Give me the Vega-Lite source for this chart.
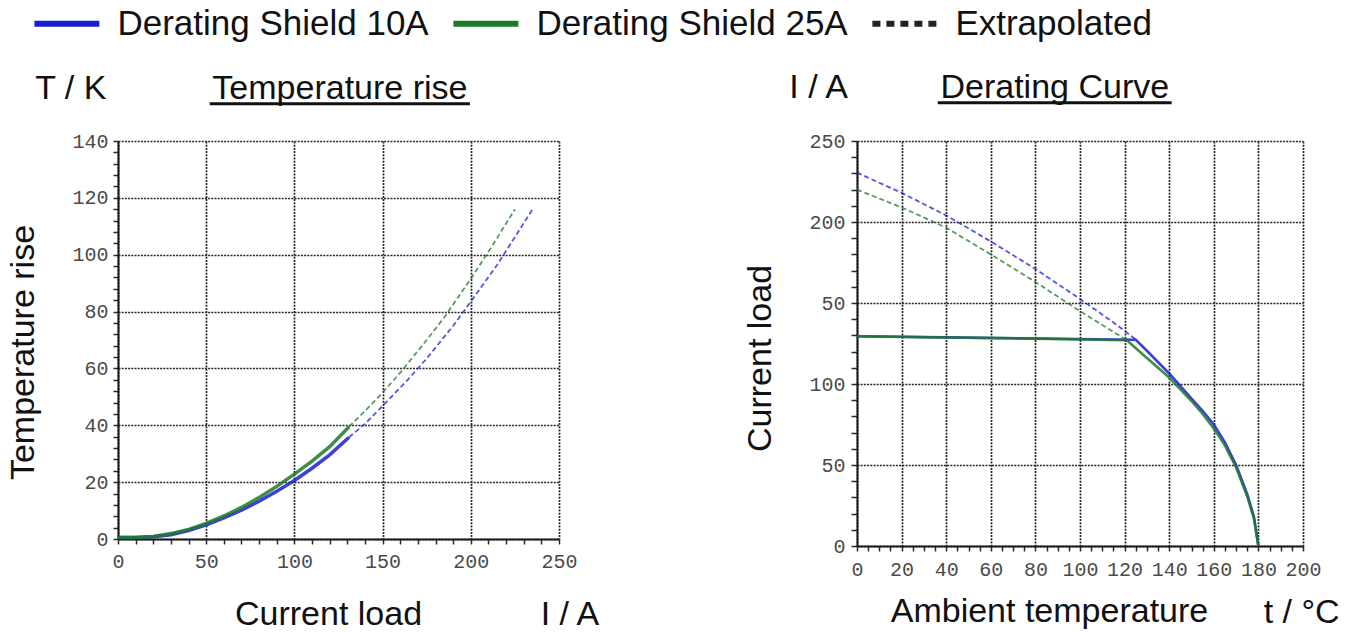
{
  "$schema": "https://vega.github.io/schema/vega-lite/v6.json",
  "background": "white",
  "padding": {"left": 6, "top": 6, "right": 4, "bottom": 0},
  "spacing": 142,
  "config": {
    "view": {"stroke": null},
    "font": "Liberation Sans",
    "axis": {
      "labelFont": "Liberation Mono", "labelFontSize": 20, "labelColor": "#4a4a4a",
      "titleFont": "Liberation Sans", "titleFontSize": 34, "titleFontWeight": "normal", "titleColor": "#111111",
      "domainColor": "#1a1a1a", "domainWidth": 2,
      "tickColor": "#2a2a2a", "tickWidth": 1.5,
      "gridColor": "#262626", "gridWidth": 1.7, "gridDash": [2, 1.2],
      "labelFlush": false, "labelOverlap": false, "titleAlign": "center", "titleBaseline": "alphabetic",
      "tickCount": 100
    },
    "text": {"font": "Liberation Sans", "fontSize": 34, "color": "#111111", "align": "center", "baseline": "alphabetic"}
  },
  "datasets": {
    "temp": [
      {"I": 0, "T": 0.5, "series": "Derating Shield 10A", "kind": "measured"},
      {"I": 10, "T": 0.5, "series": "Derating Shield 10A", "kind": "measured"},
      {"I": 20, "T": 0.8, "series": "Derating Shield 10A", "kind": "measured"},
      {"I": 30, "T": 1.5, "series": "Derating Shield 10A", "kind": "measured"},
      {"I": 40, "T": 3.0, "series": "Derating Shield 10A", "kind": "measured"},
      {"I": 50, "T": 5.0, "series": "Derating Shield 10A", "kind": "measured"},
      {"I": 60, "T": 7.4, "series": "Derating Shield 10A", "kind": "measured"},
      {"I": 70, "T": 10.1, "series": "Derating Shield 10A", "kind": "measured"},
      {"I": 80, "T": 13.3, "series": "Derating Shield 10A", "kind": "measured"},
      {"I": 90, "T": 16.8, "series": "Derating Shield 10A", "kind": "measured"},
      {"I": 100, "T": 20.6, "series": "Derating Shield 10A", "kind": "measured"},
      {"I": 110, "T": 24.9, "series": "Derating Shield 10A", "kind": "measured"},
      {"I": 120, "T": 29.6, "series": "Derating Shield 10A", "kind": "measured"},
      {"I": 131, "T": 35.8, "series": "Derating Shield 10A", "kind": "measured"},
      {"I": 131, "T": 35.8, "series": "Derating Shield 10A", "kind": "extrapolated"},
      {"I": 140, "T": 40.5, "series": "Derating Shield 10A", "kind": "extrapolated"},
      {"I": 150, "T": 46.8, "series": "Derating Shield 10A", "kind": "extrapolated"},
      {"I": 165, "T": 56.5, "series": "Derating Shield 10A", "kind": "extrapolated"},
      {"I": 175, "T": 63.5, "series": "Derating Shield 10A", "kind": "extrapolated"},
      {"I": 190, "T": 75, "series": "Derating Shield 10A", "kind": "extrapolated"},
      {"I": 200, "T": 83.5, "series": "Derating Shield 10A", "kind": "extrapolated"},
      {"I": 215, "T": 96.5, "series": "Derating Shield 10A", "kind": "extrapolated"},
      {"I": 235, "T": 116, "series": "Derating Shield 10A", "kind": "extrapolated"},
      {"I": 0, "T": 0.5, "series": "Derating Shield 25A", "kind": "measured"},
      {"I": 10, "T": 0.5, "series": "Derating Shield 25A", "kind": "measured"},
      {"I": 20, "T": 0.9, "series": "Derating Shield 25A", "kind": "measured"},
      {"I": 30, "T": 1.9, "series": "Derating Shield 25A", "kind": "measured"},
      {"I": 40, "T": 3.4, "series": "Derating Shield 25A", "kind": "measured"},
      {"I": 50, "T": 5.5, "series": "Derating Shield 25A", "kind": "measured"},
      {"I": 60, "T": 8.1, "series": "Derating Shield 25A", "kind": "measured"},
      {"I": 70, "T": 11.1, "series": "Derating Shield 25A", "kind": "measured"},
      {"I": 80, "T": 14.6, "series": "Derating Shield 25A", "kind": "measured"},
      {"I": 90, "T": 18.5, "series": "Derating Shield 25A", "kind": "measured"},
      {"I": 100, "T": 22.8, "series": "Derating Shield 25A", "kind": "measured"},
      {"I": 110, "T": 27.4, "series": "Derating Shield 25A", "kind": "measured"},
      {"I": 120, "T": 32.5, "series": "Derating Shield 25A", "kind": "measured"},
      {"I": 131, "T": 39.5, "series": "Derating Shield 25A", "kind": "measured"},
      {"I": 131, "T": 39.5, "series": "Derating Shield 25A", "kind": "extrapolated"},
      {"I": 140, "T": 45, "series": "Derating Shield 25A", "kind": "extrapolated"},
      {"I": 150, "T": 51.5, "series": "Derating Shield 25A", "kind": "extrapolated"},
      {"I": 160, "T": 58.5, "series": "Derating Shield 25A", "kind": "extrapolated"},
      {"I": 175, "T": 70, "series": "Derating Shield 25A", "kind": "extrapolated"},
      {"I": 185, "T": 78, "series": "Derating Shield 25A", "kind": "extrapolated"},
      {"I": 200, "T": 91.5, "series": "Derating Shield 25A", "kind": "extrapolated"},
      {"I": 212, "T": 103, "series": "Derating Shield 25A", "kind": "extrapolated"},
      {"I": 225, "T": 116, "series": "Derating Shield 25A", "kind": "extrapolated"}
    ],
    "derate": [
      {"t": 0, "Iload": 129.5, "series": "Derating Shield 10A", "kind": "measured"},
      {"t": 40, "Iload": 128.8, "series": "Derating Shield 10A", "kind": "measured"},
      {"t": 80, "Iload": 128.1, "series": "Derating Shield 10A", "kind": "measured"},
      {"t": 125, "Iload": 127.3, "series": "Derating Shield 10A", "kind": "measured"},
      {"t": 130, "Iload": 120.5, "series": "Derating Shield 10A", "kind": "measured"},
      {"t": 140, "Iload": 106.5, "series": "Derating Shield 10A", "kind": "measured"},
      {"t": 150, "Iload": 91, "series": "Derating Shield 10A", "kind": "measured"},
      {"t": 155, "Iload": 83.5, "series": "Derating Shield 10A", "kind": "measured"},
      {"t": 160, "Iload": 75, "series": "Derating Shield 10A", "kind": "measured"},
      {"t": 165, "Iload": 64, "series": "Derating Shield 10A", "kind": "measured"},
      {"t": 170, "Iload": 50, "series": "Derating Shield 10A", "kind": "measured"},
      {"t": 175, "Iload": 32, "series": "Derating Shield 10A", "kind": "measured"},
      {"t": 178, "Iload": 18, "series": "Derating Shield 10A", "kind": "measured"},
      {"t": 180, "Iload": 0, "series": "Derating Shield 10A", "kind": "measured"},
      {"t": 0, "Iload": 230.5, "series": "Derating Shield 10A", "kind": "extrapolated"},
      {"t": 20, "Iload": 218, "series": "Derating Shield 10A", "kind": "extrapolated"},
      {"t": 40, "Iload": 204, "series": "Derating Shield 10A", "kind": "extrapolated"},
      {"t": 60, "Iload": 188, "series": "Derating Shield 10A", "kind": "extrapolated"},
      {"t": 80, "Iload": 171, "series": "Derating Shield 10A", "kind": "extrapolated"},
      {"t": 100, "Iload": 152.5, "series": "Derating Shield 10A", "kind": "extrapolated"},
      {"t": 115, "Iload": 138, "series": "Derating Shield 10A", "kind": "extrapolated"},
      {"t": 125, "Iload": 127.5, "series": "Derating Shield 10A", "kind": "extrapolated"},
      {"t": 0, "Iload": 129.5, "series": "Derating Shield 25A", "kind": "measured"},
      {"t": 40, "Iload": 128.7, "series": "Derating Shield 25A", "kind": "measured"},
      {"t": 80, "Iload": 128, "series": "Derating Shield 25A", "kind": "measured"},
      {"t": 121, "Iload": 127, "series": "Derating Shield 25A", "kind": "measured"},
      {"t": 130, "Iload": 116, "series": "Derating Shield 25A", "kind": "measured"},
      {"t": 140, "Iload": 104, "series": "Derating Shield 25A", "kind": "measured"},
      {"t": 150, "Iload": 89.5, "series": "Derating Shield 25A", "kind": "measured"},
      {"t": 155, "Iload": 81.5, "series": "Derating Shield 25A", "kind": "measured"},
      {"t": 160, "Iload": 72.5, "series": "Derating Shield 25A", "kind": "measured"},
      {"t": 165, "Iload": 62, "series": "Derating Shield 25A", "kind": "measured"},
      {"t": 170, "Iload": 48.5, "series": "Derating Shield 25A", "kind": "measured"},
      {"t": 175, "Iload": 30.5, "series": "Derating Shield 25A", "kind": "measured"},
      {"t": 178, "Iload": 17, "series": "Derating Shield 25A", "kind": "measured"},
      {"t": 180, "Iload": 0, "series": "Derating Shield 25A", "kind": "measured"},
      {"t": 0, "Iload": 220, "series": "Derating Shield 25A", "kind": "extrapolated"},
      {"t": 20, "Iload": 209, "series": "Derating Shield 25A", "kind": "extrapolated"},
      {"t": 40, "Iload": 196.5, "series": "Derating Shield 25A", "kind": "extrapolated"},
      {"t": 60, "Iload": 180, "series": "Derating Shield 25A", "kind": "extrapolated"},
      {"t": 80, "Iload": 163, "series": "Derating Shield 25A", "kind": "extrapolated"},
      {"t": 100, "Iload": 145, "series": "Derating Shield 25A", "kind": "extrapolated"},
      {"t": 121, "Iload": 127, "series": "Derating Shield 25A", "kind": "extrapolated"}
    ]
  },
  "hconcat": [
    {
      "width": 441,
      "height": 398,
      "layer": [
        {
          "data": {"name": "temp"},
          "transform": [{"filter": "datum.kind === 'measured'"}],
          "mark": {"type": "line", "strokeWidth": 3.5, "opacity": 0.85},
          "encoding": {
            "x": {
              "field": "I", "type": "quantitative",
              "scale": {"domain": [0, 250], "nice": false},
              "axis": {
                "values": [0,10,20,30,40,50,60,70,80,90,100,110,120,130,140,150,160,170,180,190,200,210,220,230,240,250],
                "tickCount": 100,
                "labelExpr": "datum.value % 50 === 0 ? datum.label : ''",
                "labelOverlap": false, "labelFlush": false,
                "gridOpacity": {"condition": {"test": "datum.value % 50 === 0", "value": 1}, "value": 0},
                "tickSize": 5, "labelPadding": 7,
                "title": "Current load", "titleX": 210, "titleY": 85.5
              }
            },
            "y": {
              "field": "T", "type": "quantitative",
              "scale": {"domain": [0, 140], "nice": false},
              "axis": {
                "values": [0,4,8,12,16,20,24,28,32,36,40,44,48,52,56,60,64,68,72,76,80,84,88,92,96,100,104,108,112,116,120,124,128,132,136,140],
                "tickCount": 100,
                "labelExpr": "datum.value % 20 === 0 ? datum.label : ''",
                "labelOverlap": false, "labelFlush": false,
                "gridOpacity": {"condition": {"test": "datum.value % 20 === 0", "value": 1}, "value": 0},
                "tickSize": 5, "labelPadding": 5,
                "title": "Temperature rise", "titleX": -85, "titleY": 211
              }
            },
            "color": {
              "field": "series", "type": "nominal",
              "scale": {"domain": ["Derating Shield 10A", "Derating Shield 25A", "Extrapolated"], "range": ["#1c1cd4", "#1d7a28", "#222222"]},
              "legend": {
                "orient": "none", "legendX": -68.6, "legendY": -135, "direction": "horizontal", "title": null,
                "symbolType": "M-4,0H4", "symbolSize": 264, "symbolStrokeWidth": 6, "symbolOpacity": 1,
                "labelFont": "Liberation Sans", "labelFontSize": 35, "labelColor": "#111111", "labelOffset": 33, "labelLimit": 0,
                "columnPadding": 12,
                "encode": {"symbols": {"update": {"strokeDash": {"signal": "datum.value === 'Extrapolated' ? [8, 6] : null"}}}}
              }
            }
          }
        },
        {
          "data": {"name": "temp"},
          "transform": [{"filter": "datum.kind === 'extrapolated'"}],
          "mark": {"type": "line", "strokeWidth": 1.8, "strokeDash": [5, 3], "opacity": 0.75},
          "encoding": {
            "x": {"field": "I", "type": "quantitative"},
            "y": {"field": "T", "type": "quantitative"},
            "color": {"field": "series", "type": "nominal"}
          }
        },
        {
          "data": {"values": [{"label": "T / K"}]},
          "mark": {"type": "text"},
          "encoding": {"x": {"datum": -26.8}, "y": {"datum": 154.7}, "text": {"field": "label"}}
        },
        {
          "data": {"values": [{"label": "Temperature rise"}]},
          "mark": {"type": "text"},
          "encoding": {"x": {"datum": 125.8}, "y": {"datum": 154.7}, "text": {"field": "label"}}
        },
        {
          "data": {"values": [{"label": "I / A"}]},
          "mark": {"type": "text"},
          "encoding": {"x": {"datum": 256.2}, "y": {"datum": -30.3}, "text": {"field": "label"}}
        },
        {
          "data": {"values": [{}]},
          "mark": {"type": "rule", "color": "#111111", "strokeWidth": 3},
          "encoding": {"x": {"datum": 52}, "x2": {"datum": 199.5}, "y": {"datum": 153.1}}
        }
      ]
    },
    {
      "width": 446,
      "height": 405,
      "layer": [
        {
          "data": {"name": "derate"},
          "transform": [{"filter": "datum.kind === 'measured'"}],
          "mark": {"type": "line", "strokeWidth": 2.6, "opacity": 0.85},
          "encoding": {
            "x": {
              "field": "t", "type": "quantitative",
              "scale": {"domain": [0, 200], "nice": false},
              "axis": {
                "values": [0,5,10,15,20,25,30,35,40,45,50,55,60,65,70,75,80,85,90,95,100,105,110,115,120,125,130,135,140,145,150,155,160,165,170,175,180,185,190,195,200],
                "tickCount": 100,
                "labelExpr": "datum.value % 20 === 0 ? datum.label : ''",
                "labelOverlap": false, "labelFlush": false,
                "gridOpacity": {"condition": {"test": "datum.value % 20 === 0", "value": 1}, "value": 0},
                "tickSize": 5, "labelPadding": 8,
                "title": "Ambient temperature", "titleX": 192, "titleY": 75
              }
            },
            "y": {
              "field": "Iload", "type": "quantitative",
              "scale": {"domain": [0, 250], "nice": false},
              "axis": {
                "values": [0,10,20,30,40,50,60,70,80,90,100,110,120,130,140,150,160,170,180,190,200,210,220,230,240,250],
                "tickCount": 100,
                "labelExpr": "datum.value === 150 ? '50' : (datum.value % 50 === 0 ? datum.label : '')",
                "labelOverlap": false, "labelFlush": false,
                "gridOpacity": {"condition": {"test": "datum.value % 50 === 0", "value": 1}, "value": 0},
                "tickSize": 6, "labelPadding": 6,
                "title": "Current load", "titleX": -87, "titleY": 217
              }
            },
            "color": {"field": "series", "type": "nominal"}
          }
        },
        {
          "data": {"name": "derate"},
          "transform": [{"filter": "datum.kind === 'extrapolated'"}],
          "mark": {"type": "line", "strokeWidth": 1.8, "strokeDash": [5, 3], "opacity": 0.75},
          "encoding": {
            "x": {"field": "t", "type": "quantitative"},
            "y": {"field": "Iload", "type": "quantitative"},
            "color": {"field": "series", "type": "nominal"}
          }
        },
        {
          "data": {"values": [{"label": "I / A"}]},
          "mark": {"type": "text"},
          "encoding": {"x": {"datum": -17.2}, "y": {"datum": 276.4}, "text": {"field": "label"}}
        },
        {
          "data": {"values": [{"label": "Derating Curve"}]},
          "mark": {"type": "text"},
          "encoding": {"x": {"datum": 88.7}, "y": {"datum": 276.4}, "text": {"field": "label"}}
        },
        {
          "data": {"values": [{"label": "t / °C"}]},
          "mark": {"type": "text"},
          "encoding": {"x": {"datum": 199.4}, "y": {"datum": -47.7}, "text": {"field": "label"}}
        },
        {
          "data": {"values": [{}]},
          "mark": {"type": "rule", "color": "#111111", "strokeWidth": 3},
          "encoding": {"x": {"datum": 36.2}, "x2": {"datum": 141.1}, "y": {"datum": 273.6}}
        }
      ]
    }
  ]
}
